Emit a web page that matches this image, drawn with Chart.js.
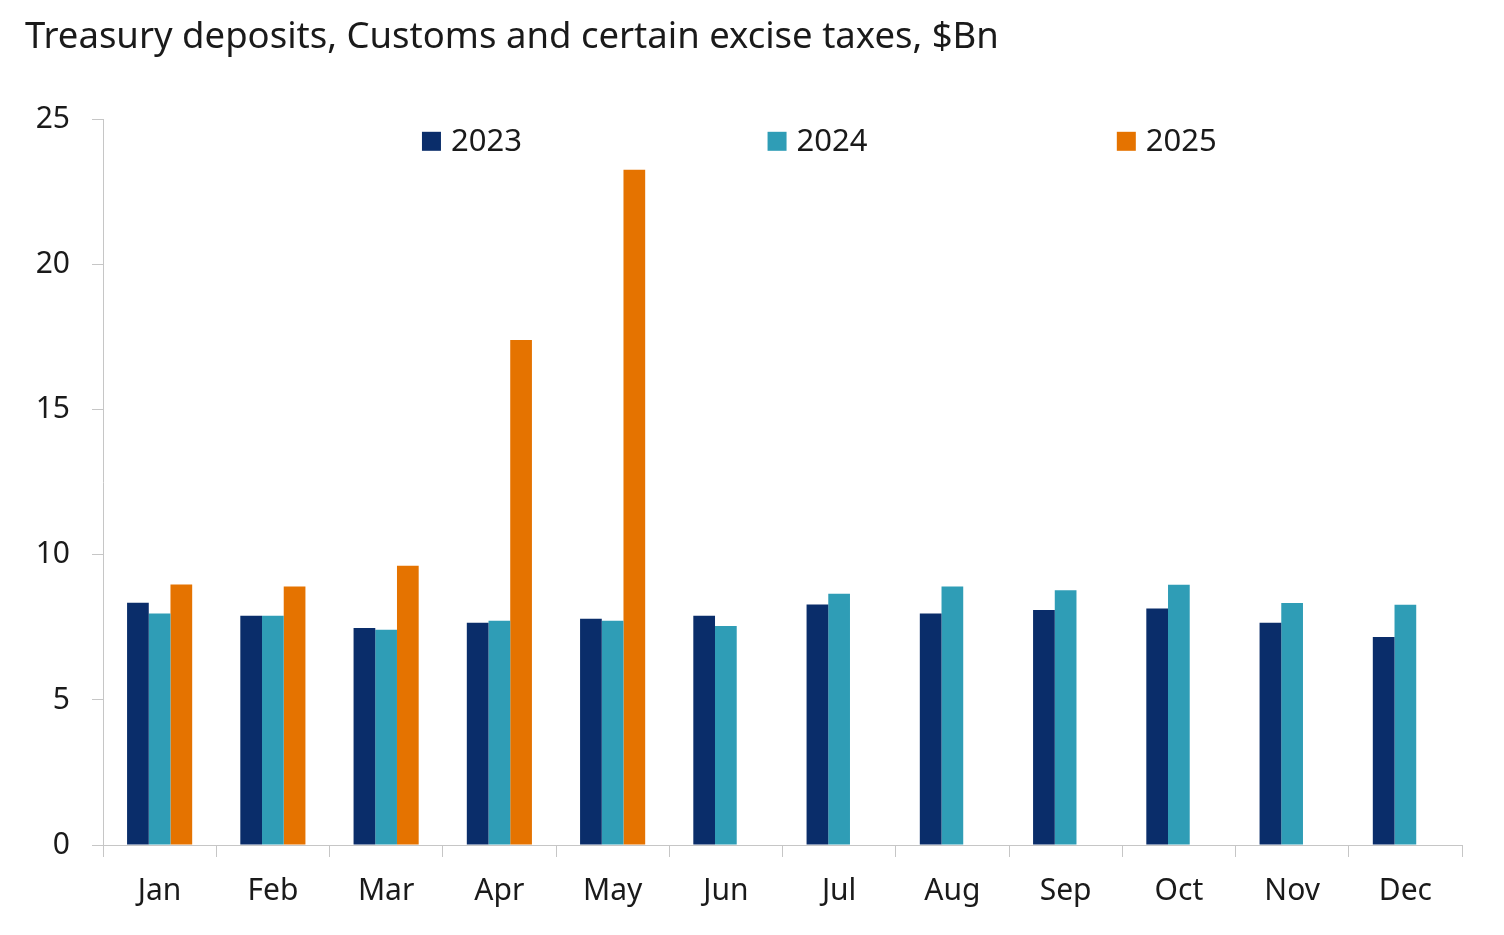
<!DOCTYPE html>
<html>
<head>
<meta charset="utf-8">
<script src="https://cdn.jsdelivr.net/npm/chart.js@4.4.1/dist/chart.umd.min.js"></script>
<style>
  html, body { margin: 0; padding: 0; background: #fff; }
  #wrap { width: 1504px; height: 935px; }
</style>
</head>
<body>
<div id="wrap"><canvas class="bar-chart"></canvas></div>
<script>
// values, $Bn
const months = ["Jan", "Feb", "Mar", "Apr", "May", "Jun", "Jul", "Aug", "Sep", "Oct", "Nov", "Dec"];
const years = ["2023", "2024", "2025"];
const deposits2023 = [8.35, 7.90, 7.48, 7.66, 7.80, 7.90, 8.29, 7.98, 8.10, 8.15, 7.66, 7.17];
const deposits2024 = [7.98, 7.90, 7.42, 7.73, 7.73, 7.55, 8.66, 8.91, 8.78, 8.97, 8.34, 8.28];
const deposits2025 = [8.98, 8.91, 9.63, 17.41, 23.28, null, null, null, null, null, null, null];
const yTicks = [0, 5, 10, 15, 20, 25];

const FONT = "'Noto Sans', 'Open Sans', sans-serif";
const TEXT = '#1a1a1a';
const AXIS = '#c6c6c6';

// legend drawn over the plot, like the original
const insideLegend = {
    id: 'insideLegend',
    afterDraw(chart) {
        const ctx = chart.ctx;
        const area = chart.chartArea;
        const spots = [0.2347, 0.489, 0.746];
        ctx.save();
        ctx.font = '31px ' + FONT;
        ctx.textBaseline = 'middle';
        chart.data.datasets.forEach((ds, i) => {
            const x = area.left + spots[i] * (area.right - area.left);
            const y = area.top + 21;
            ctx.fillStyle = ds.backgroundColor;
            ctx.fillRect(x, y - 9, 19, 19);
            ctx.fillStyle = TEXT;
            ctx.fillText(ds.label, x + 29, y + 1);
        });
        ctx.restore();
    }
};

document.addEventListener('DOMContentLoaded', function () {
    const canvas = document.querySelector(".bar-chart");
    if (!canvas) {
        console.error("Canvas element with class 'bar-chart' not found.");
        return;
    }
    new Chart(canvas.getContext("2d"), {
        type: "bar",
        data: {
            labels: months,
            datasets: [
                { label: years[0], data: deposits2023, backgroundColor: "#0a2d6a" },
                { label: years[1], data: deposits2024, backgroundColor: "#2f9db6" },
                { label: years[2], data: deposits2025, backgroundColor: "#e57300" }
            ]
        },
        options: {
            responsive: true,
            maintainAspectRatio: false,
            animation: false,
            datasets: {
                bar: { categoryPercentage: 0.575, barPercentage: 1.0, borderWidth: 0 }
            },
            layout: { padding: { left: 25, right: 42, top: 0, bottom: 0 } },
            plugins: {
                legend: { display: false },
                tooltip: { enabled: false },
                title: {
                    display: true,
                    text: 'Treasury deposits, Customs and certain excise taxes, $Bn',
                    align: 'start',
                    color: TEXT,
                    font: { family: FONT, size: 36.5, weight: 'normal' },
                    padding: { top: 16, bottom: 60 }
                }
            },
            scales: {
                x: {
                    grid: {
                        offset: true,
                        drawOnChartArea: false,
                        tickLength: 12,
                        color: AXIS
                    },
                    border: { color: AXIS },
                    ticks: {
                        color: TEXT,
                        padding: 16,
                        font: { family: FONT, size: 30 }
                    },
                    afterFit(scale) { scale.height = 90; }
                },
                y: {
                    min: 0,
                    max: 25,
                    afterBuildTicks(scale) { scale.ticks = yTicks.map(v => ({ value: v })); },
                    grid: {
                        drawOnChartArea: false,
                        tickLength: 11,
                        color: AXIS
                    },
                    border: { color: AXIS },
                    ticks: {
                        color: TEXT,
                        padding: 22,
                        font: { family: FONT, size: 30 }
                    },
                    afterFit(scale) { scale.width = 78; }
                }
            }
        },
        plugins: [insideLegend]
    });
});
</script>
</body>
</html>
